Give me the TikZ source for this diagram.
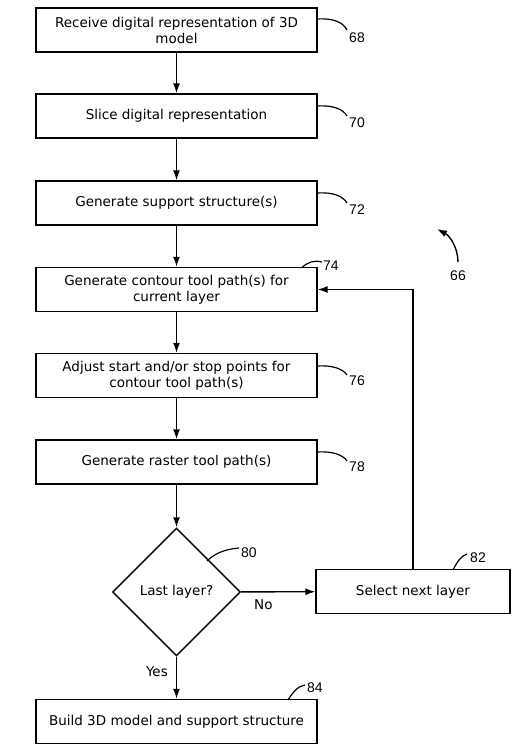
\documentclass[tikz,border=0pt]{standalone}
\usepackage{fontspec}
\setmainfont{DejaVu Sans}
\newfontfamily\numfont{Liberation Sans}
\usetikzlibrary{shapes.geometric,arrows.meta}
\begin{document}
\begin{tikzpicture}[x=1pt,y=-1pt,
  box/.style={draw,line width=1.4pt,rectangle,minimum width=281pt,minimum height=44pt,inner sep=2pt,align=center,font=\fontsize{13.5}{16}\selectfont},
  sbox/.style={box,minimum width=194pt},
  dia/.style={draw,line width=1.4pt,diamond,aspect=1,minimum width=128pt,minimum height=128pt,inner sep=0pt,font=\fontsize{13.5}{16}\selectfont},
  flow/.style={line width=1.4pt,-{Latex[length=10pt,width=7pt]}},
  lead/.style={line width=1.2pt},
  num/.style={font=\numfont\fontsize{14}{16}\selectfont,inner sep=0pt},
  lbl/.style={font=\fontsize{13.5}{16}\selectfont,inner sep=0pt}]
\useasboundingbox (0,0) rectangle (519,756);
\node[box] (b68) at (176.5,30) {Receive digital representation of 3D\\model};
\node[box] (b70) at (176.5,116) {Slice digital representation};
\node[box] (b72) at (176.5,203) {Generate support structure(s)};
\node[box] (b74) at (176.5,289.5) {Generate contour tool path(s) for\\current layer};
\node[box] (b76) at (176.5,375.5) {Adjust start and/or stop points for\\contour tool path(s)};
\node[box] (b78) at (176.5,462) {Generate raster tool path(s)};
\node[dia] (d80) at (176.5,592) {Last layer?};
\node[sbox] (b82) at (413,591.5) {Select next layer};
\node[box] (b84) at (176.5,721.5) {Build 3D model and support structure};
\draw[flow] (b68) -- (b70);
\draw[flow] (b70) -- (b72);
\draw[flow] (b72) -- (b74);
\draw[flow] (b74) -- (b76);
\draw[flow] (b76) -- (b78);
\draw[flow] (b78) -- (d80);
\draw[flow] (d80) -- (b84) node[lbl,pos=0.35,left=8pt] {Yes};
\draw[flow] (d80) -- (b82) node[lbl,pos=0.3,below=7pt] {No};
\draw[flow] (b82.north) -- (b82.north |- b74.east) -- (b74.east);
% labels
\node[num] (n68) at (357,38) {68};
\node[num] (n70) at (357,123) {70};
\node[num] (n72) at (357,210) {72};
\node[num] (n74) at (331,266) {74};
\node[num] (n76) at (357,381) {76};
\node[num] (n78) at (357,467) {78};
\node[num] (n80) at (249,553) {80};
\node[num] (n82) at (478,558) {82};
\node[num] (n84) at (315,688) {84};
\node[num] (n66) at (458,276) {66};
\coordinate (a68) at (317,19);
\coordinate (a70) at (317,106);
\coordinate (a72) at (317,193);
\coordinate (a74) at (302,267.5);
\coordinate (a76) at (317,366);
\coordinate (a78) at (317,452);
\coordinate (a80) at (207,561);
\coordinate (a82) at (453,570);
\coordinate (a84) at (288,700);
\draw[lead] (a68) .. controls (333,18) and (343,22) .. (347,30);
\draw[lead] (a70) .. controls (333,105) and (343,109) .. (347,116);
\draw[lead] (a72) .. controls (333,192) and (343,196) .. (347,203);
\draw[lead] (a74) .. controls (308,262) and (314,260) .. (322,262);
\draw[lead] (a76) .. controls (333,365) and (343,369) .. (347,375);
\draw[lead] (a78) .. controls (333,451) and (343,455) .. (347,461);
\draw[lead] (a80) .. controls (215,553) and (226,549) .. (239,548);
\draw[lead] (a82) .. controls (457,562) and (461,556) .. (467,554);
\draw[lead] (a84) .. controls (293,692) and (298,686) .. (305,685);
\coordinate (a66) at (458,262);
\coordinate (e66) at (437,229);
\draw[line width=1.4pt,-{Latex[length=10pt,width=7pt]}] (a66) .. controls (458,248) and (450,236) .. (e66);
\end{tikzpicture}
\end{document}
